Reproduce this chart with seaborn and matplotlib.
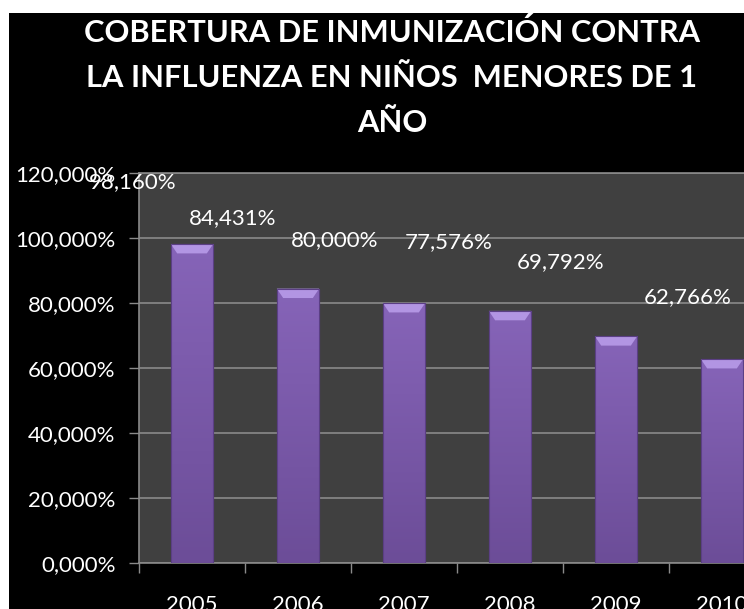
import matplotlib
matplotlib.use("Agg")
import matplotlib.pyplot as plt
import seaborn as sns
import pandas as pd
import numpy as np
from matplotlib.patches import Polygon, Rectangle
from matplotlib.colors import LinearSegmentedColormap
from matplotlib.ticker import FuncFormatter

# ---- data ----
years = ["2005", "2006", "2007", "2008", "2009", "2010"]
coverage = [98.160, 84.431, 80.000, 77.576, 69.792, 62.766]
yticks = [0, 20, 40, 60, 80, 100, 120]
title_lines = ["COBERTURA DE INMUNIZACIÓN CONTRA",
               "LA INFLUENZA EN NIÑOS  MENORES DE 1",
               "AÑO"]

# manual placement of data labels (as in the original, dragged labels)
label_dx = [-0.56, -0.62, -0.65, -0.58, -0.52, -0.32]
label_y = [117.2, 106.2, 99.4, 98.8, 92.6, 81.8]

df = pd.DataFrame({"year": years, "cov": coverage})

sns.set_theme(style="dark")
plt.rcParams['font.family'] = ['Lato', 'DejaVu Sans']

W, H = 744, 609
fig = plt.figure(figsize=(W / 100, H / 100), dpi=100, facecolor='white')
fig.patches.append(Rectangle((9 / W, 0), 1, 1 - 13 / H, transform=fig.transFigure,
                             facecolor='black', edgecolor='none', zorder=-5))

ax = fig.add_axes([139 / W, 46 / H, 636 / W, 390 / H])
ax.set_zorder(2)
ax.set_facecolor('#404040')

sns.barplot(data=df, x="year", y="cov", color="#7e5db0", width=0.4,
            saturation=1, edgecolor='#5b3f85', linewidth=0.8, ax=ax, zorder=3)

ax.set_xlim(-0.5, 5.5)
ax.set_ylim(0, 120)

# gradient body + top bevel
cmap = LinearSegmentedColormap.from_list("pur", ["#6c4d98", "#8664b8"])
grad = np.linspace(0, 1, 100).reshape(-1, 1)
bh = 2.9
for p in list(ax.patches):
    x0, w, h = p.get_x(), p.get_width(), p.get_height()
    im = ax.imshow(grad, extent=[x0, x0 + w, 0, h], origin='lower', aspect='auto',
                   cmap=cmap, zorder=3.1)
    im.set_clip_path(p)
    inset = w * 0.15
    ax.add_patch(Polygon([(x0, h), (x0 + w, h), (x0 + w - inset, h - bh), (x0 + inset, h - bh)],
                         closed=True, facecolor='#b295e3', edgecolor='none', zorder=3.2))
    ax.add_patch(Rectangle((x0, 0), w, h, facecolor='none', edgecolor='#5b3f85',
                           linewidth=0.8, zorder=3.3))

ax.set_xlim(-0.5, 5.5)
ax.set_ylim(0, 120)
ax.set_aspect('auto')

# grid
ax.set_yticks(yticks)
ax.yaxis.grid(True, color='#8a8a8a', linewidth=1.2, zorder=1)
ax.xaxis.grid(False)
ax.set_axisbelow(True)
ax.yaxis.set_major_formatter(FuncFormatter(lambda v, pos: f"{v:.3f}".replace('.', ',') + "%"))

FS = 16

# x ticks at category boundaries, labels centered
ax.set_xticks([i - 0.5 for i in range(len(years) + 1)])
ax.set_xticklabels([""] * (len(years) + 1))
ax.set_xticks(range(len(years)), labels=years, minor=True)
ax.tick_params(axis='x', which='major', direction='out', length=7, width=1,
               color='#8a8a8a', bottom=True)
ax.tick_params(axis='x', which='minor', length=0, pad=23, labelsize=FS,
               labelcolor='white', bottom=True)
ax.tick_params(axis='y', which='major', direction='out', length=7, width=1,
               color='#8a8a8a', left=True, pad=10, labelsize=FS, labelcolor='white')

for s in ['left', 'bottom', 'top']:
    ax.spines[s].set_visible(True)
    ax.spines[s].set_color('#8a8a8a')
    ax.spines[s].set_linewidth(1.2)
ax.spines['right'].set_visible(False)

ax.set_xlabel("")
ax.set_ylabel("")

# data labels
for i, v in enumerate(coverage):
    ax.text(i + label_dx[i], label_y[i], f"{v:.3f}".replace('.', ',') + "%",
            ha='center', va='center', color='white', fontsize=FS, zorder=5,
            clip_on=False)

# title
for k, line in enumerate(title_lines):
    fig.text(392 / W, 1 - (42 + 45 * k) / H, line, ha='center', va='baseline',
             color='white', fontsize=22.2, fontweight='bold')

fig.savefig("out.png", dpi=100, facecolor=fig.get_facecolor())
